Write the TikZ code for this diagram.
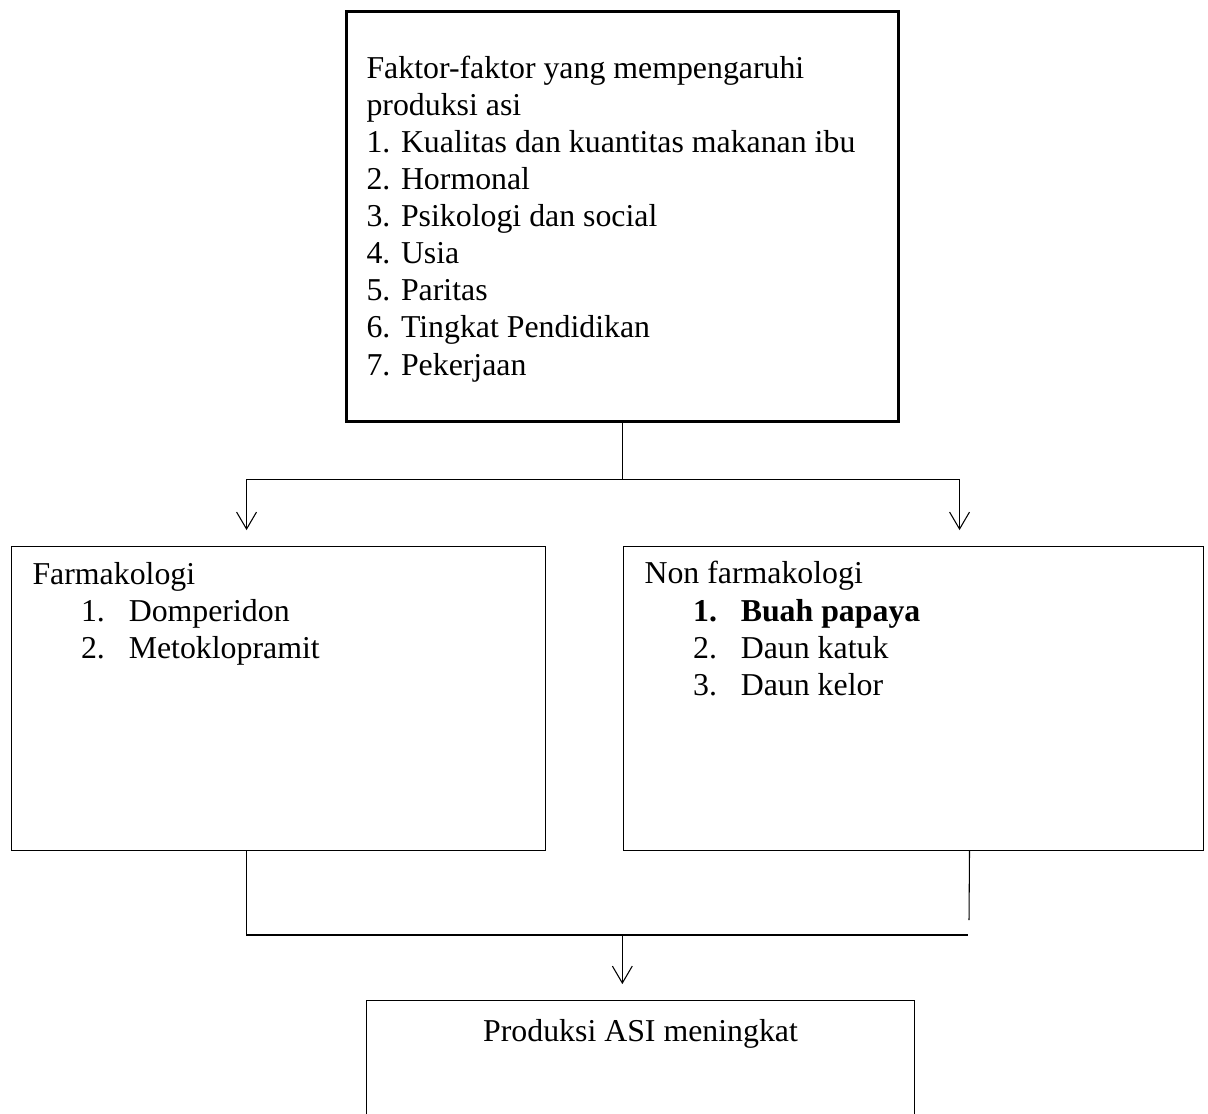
\documentclass[tikz,border=0pt]{standalone}
\usepackage{fontspec}
\setmainfont{Liberation Serif}
\usetikzlibrary{arrows.meta}
\newcommand{\pxlen}{0.377pt}
\newcommand{\listnum}[2]{\hspace*{18.3pt}\makebox[18pt][l]{#1}#2}
\tikzset{
  box/.style={draw, inner sep=0pt, anchor=north west},
  heavybox/.style={box, line width=1pt},
  boxtext/.style={anchor=base west, inner sep=0pt, align=left,
    font=\fontsize{12}{13.95}\selectfont},
  flow/.style={-{Straight Barb[length=6.4pt,width=7.5pt]}, shorten >=6pt},
}

\begin{document}
\begin{tikzpicture}[x=\pxlen, y=-\pxlen]
    \useasboundingbox (0,0) rectangle (1208,1113);
    % boxes
    \node[heavybox, minimum width=552*\pxlen, minimum height=410*\pxlen] (top_box) at (345,10) {};
    \node[box, minimum width=534*\pxlen, minimum height=304*\pxlen] (farma_box) at (11,546) {};
    \node[box, minimum width=580*\pxlen, minimum height=304*\pxlen] (nonfarma_box) at (623,546) {};
    \node[box, minimum width=548*\pxlen, minimum height=200*\pxlen] (result_box) at (366,1000) {};
    % texts (base = last line)
    \node[boxtext] (top_text) at (366,375) {Faktor-faktor yang mempengaruhi\\
        produksi asi\\
        1. Kualitas dan kuantitas makanan ibu\\
        2. Hormonal\\
        3. Psikologi dan social\\
        4. Usia\\
        5. Paritas\\
        6. Tingkat Pendidikan\\
        7. Pekerjaan};
    \node[boxtext] (farma_text) at (32,658) {Farmakologi\\
        \listnum{1.}{Domperidon}\\
        \listnum{2.}{Metoklopramit}};
    \node[boxtext] (nonfarma_text) at (644,695) {Non farmakologi\\
        \listnum{\textbf{1.}}{\textbf{Buah papaya}}\\
        \listnum{2.}{Daun katuk}\\
        \listnum{3.}{Daun kelor}};
    \node[boxtext, anchor=base] (result_text) at ([yshift=-15.46pt]result_box.north) {Produksi ASI meningkat};
    % joints
    \coordinate (branch_mid) at ([yshift=-21.49pt]top_box.south);
    \coordinate (join_mid) at (branch_mid |- {(0,935)});
    \coordinate (join_right) at (968,935);
    \coordinate (nonfarma_end) at (969,920);
    % connectors
    \draw (top_box.south) -- (branch_mid);
    \draw[flow] (branch_mid) -| ([xshift=-12.06pt]farma_box.north);
    \draw[flow] (branch_mid) -| ([xshift=17.34pt]nonfarma_box.north);
    \draw ([xshift=-12.06pt]farma_box.south) |- (join_right);
    \draw ([xshift=21.1pt]nonfarma_box.south) -- (nonfarma_end);
    \draw[flow] (join_mid) -- (join_mid |- result_box.north);
\end{tikzpicture}
\end{document}
